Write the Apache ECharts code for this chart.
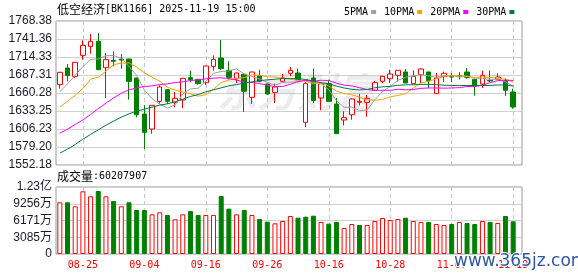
<!DOCTYPE html>
<html><head><meta charset="utf-8">
<script src="https://cdn.jsdelivr.net/npm/echarts@6/dist/echarts.min.js"></script>
<style>html,body{margin:0;padding:0;background:#fff}#c{width:578px;height:276px}</style>
</head><body><div id="c"></div>
<script>
const dates = ['08-20','08-21','08-22','08-25','08-26','08-27','08-28','08-29','09-01','09-02','09-03','09-04','09-05','09-08','09-09','09-10','09-11','09-12','09-15','09-16','09-17','09-18','09-19','09-22','09-23','09-24','09-25','09-26','09-29','09-30','10-09','10-10','10-13','10-14','10-15','10-16','10-17','10-20','10-21','10-22','10-23','10-24','10-27','10-28','10-29','10-30','10-31','11-03','11-04','11-05','11-06','11-07','11-10','11-11','11-12','11-13','11-14','11-17','11-18','11-19'];
const opens = [1672.8,1697.8,1685.3,1716.8,1730.3,1737.9,1698.3,1709.3,1711.3,1711.3,1682.8,1628.7,1606.2,1647.8,1665.3,1646.3,1649.8,1683.3,1680.8,1675.8,1700.3,1712.8,1694.3,1682.3,1688.3,1653.8,1686.3,1673.8,1661.3,1677.8,1689.8,1690.3,1616.2,1682.8,1652.8,1674.3,1643.8,1619.7,1627.7,1646.3,1646.3,1664.3,1677.8,1681.8,1686.8,1691.8,1674.3,1687.8,1691.8,1659.3,1684.8,1685.3,1686.5,1691.8,1680.8,1673.8,1679.3,1680.8,1679.3,1661.8];
const closes = [1691.3,1686.3,1706.3,1731.8,1737.9,1695.3,1710.3,1707.8,1709.8,1677.8,1627.7,1601.2,1641.8,1669.3,1647.8,1652.3,1682.3,1680.3,1674.3,1700.8,1710.8,1696.8,1683.8,1690.3,1662.8,1691.8,1677.8,1658.8,1669.3,1682.8,1694.3,1680.3,1674.3,1648.8,1674.3,1647.8,1599.2,1623.2,1651.3,1647.8,1652.3,1675.8,1685.3,1688.8,1694.3,1675.3,1685.3,1696.3,1678.8,1682.8,1689.8,1684.3,1685.5,1683.8,1670.8,1686.8,1678.3,1684.3,1664.3,1639.3];
const lows = [1666.8,1677.8,1682.8,1710.3,1719.3,1695.0,1652.8,1700.3,1696.8,1650.3,1623.7,1576.2,1599.2,1644.3,1643.8,1638.8,1637.3,1676.3,1672.8,1672.3,1693.8,1695.3,1680.3,1675.3,1631.8,1643.8,1676.3,1657.8,1645.3,1677.3,1685.3,1679.8,1609.2,1645.3,1634.3,1647.3,1598.8,1611.7,1620.2,1641.8,1624.7,1663.3,1675.3,1675.3,1677.8,1675.0,1674.0,1675.3,1667.8,1659.0,1676.8,1676.8,1680.5,1681.8,1656.3,1667.8,1676.8,1680.3,1655.8,1636.8];
const highs = [1692.0,1703.8,1707.0,1739.4,1748.9,1750.4,1720.3,1722.8,1718.8,1711.8,1683.3,1641.8,1642.3,1671.8,1665.8,1661.8,1683.0,1693.8,1681.5,1701.3,1716.8,1739.9,1707.8,1691.0,1689.0,1692.3,1695.3,1674.3,1674.3,1688.8,1699.3,1696.8,1676.3,1696.8,1675.0,1680.3,1652.8,1632.8,1652.0,1658.8,1657.3,1678.3,1686.0,1695.3,1695.0,1696.3,1694.3,1697.0,1692.3,1690.3,1692.3,1690.3,1691.8,1697.8,1681.3,1693.8,1694.3,1689.8,1681.8,1666.8];
const volumes = [95240000,95240000,87850000,115500000,106300000,116050000,106300000,97630000,87850000,95240000,81050000,81050000,73100000,76800000,71840000,63900000,73100000,79210000,71840000,71840000,71840000,106840000,83500000,73100000,81050000,71840000,64470000,59530000,56500000,60790000,70000000,66900000,68750000,70600000,58950000,55900000,58950000,47900000,55260000,53420000,53420000,60790000,66320000,62630000,64470000,66900000,60790000,58950000,58950000,55260000,53420000,55260000,58950000,57100000,55260000,60790000,58950000,57100000,70000000,60207907];
const ma5 = [1662,1674,1687,1700,1710.7,1711.5,1716.3,1716.6,1712.2,1700.2,1686.7,1664.9,1651.7,1643.6,1637.6,1642.5,1658.7,1666.4,1667.4,1678.0,1689.7,1692.6,1693.3,1696.5,1688.9,1685.1,1681.3,1676.3,1672.1,1676.1,1676.6,1677.1,1680.2,1676.1,1674.4,1665.1,1648.9,1638.7,1639.2,1633.9,1634.8,1650.1,1662.5,1670.0,1679.3,1683.9,1685.8,1688.0,1686.0,1683.7,1686.6,1686.4,1684.2,1685.2,1682.8,1682.2,1681.0,1680.8,1676.9,1670.6];
const ma10 = [1639,1648,1657,1667,1681,1684,1693,1703,1705,1705.5,1699.1,1690.6,1684.1,1677.9,1668.9,1664.6,1661.8,1659.0,1655.5,1657.8,1666.1,1675.7,1679.9,1682.0,1683.5,1687.4,1687.0,1684.8,1684.3,1682.5,1680.9,1679.2,1678.3,1674.1,1675.3,1670.9,1663.0,1659.4,1657.6,1654.1,1649.9,1649.5,1650.6,1654.6,1656.6,1659.3,1667.9,1675.3,1678.0,1681.5,1685.3,1686.1,1686.1,1685.6,1683.3,1684.4,1683.7,1682.5,1681.1,1676.7];
const ma20 = [1600,1606,1613,1620,1628,1637,1645,1653,1660,1665,1668,1670,1671,1673,1674,1676,1677,1679,1680,1681.6,1682.6,1683.1,1682.0,1679.9,1676.2,1676.0,1674.4,1671.9,1669.9,1670.1,1673.5,1677.4,1679.1,1678.0,1679.4,1679.1,1675.0,1672.1,1671.0,1668.3,1665.4,1664.3,1664.4,1664.3,1665.9,1665.1,1665.5,1667.3,1667.8,1667.8,1667.6,1667.8,1668.4,1670.1,1669.9,1671.9,1675.8,1678.9,1679.5,1679.1];
const ma30 = [1570,1576,1583,1591,1598,1605,1612,1618,1624,1629,1633,1636,1639,1642,1644,1647,1651,1655,1658,1662,1665,1668,1671,1673,1675,1677,1679,1680,1681,1681.9,1682.0,1681.8,1680.7,1678.0,1675.9,1674.3,1670.6,1667.8,1665.8,1664.8,1665.6,1668.1,1669.6,1670.2,1671.8,1672.5,1672.6,1673.2,1673.3,1672.7,1672.0,1671.6,1671.7,1671.4,1671.7,1671.5,1671.6,1672.4,1672.2,1670.8];
const priceTicks = ['1552.18','1579.20','1606.23','1633.25','1660.28','1687.31','1714.33','1741.36','1768.38'];
const volTicks = ['0','3085万','6171万','9256万','1.23亿'];
const maNames = ['5PMA','10PMA','20PMA','30PMA'];

const PRICE_MIN = 1552.18, PRICE_MAX = 1768.38;
const VOL_MAX = 123420000;
const RED = '#ff0000', GREEN = '#008000';
const maColors = ['#a0a0a0','#f5a300','#ff00ff','#007a3d'];
const mono = '"DejaVu Sans Mono", monospace';
const cjk = '"Noto Sans CJK SC", sans-serif';
const labelIdx = (i) => i % 8 === 3;

const kData = opens.map((o, i) => [o, closes[i], lows[i], highs[i]]);
const volData = volumes.map((v, i) => {
  const prev = i === 0 ? opens[0] : closes[i - 1];
  const up = closes[i] >= prev;
  return { value: v, itemStyle: up ? { color: '#fff', borderColor: RED, borderWidth: 1 } : { color: GREEN, borderColor: GREEN, borderWidth: 1 } };
});
const maData = [ma5, ma10, ma20, ma30];

const vSplit = { show: true, interval: labelIdx, alignWithLabel: true, lineStyle: { color: '#c8c8c8', type: [4, 3], width: 1 } };
const hSplit = { show: true, lineStyle: { color: '#d0d0d0', width: 1 } };

const chart = echarts.init(document.getElementById('c'), null, { renderer: 'canvas' });
chart.setOption({
  animation: false,
  backgroundColor: '#fff',
  legend: {
    data: maNames, left: 339, top: 2, icon: 'rect', itemWidth: 5, itemHeight: 4, itemGap: 8,
    align: 'right', selectedMode: false,
    textStyle: { fontFamily: mono, fontSize: 10, color: '#000', padding: [0, -2, 0, 0] }
  },
  grid: [
    { left: 56, top: 21, width: 466, height: 144, show: true, borderColor: '#999', borderWidth: 1, backgroundColor: 'transparent' },
    { left: 56, top: 21, width: 461, height: 144 },
    { left: 56, top: 187, width: 466, height: 67, show: true, borderColor: '#999', borderWidth: 1, backgroundColor: 'transparent' },
    { left: 56, top: 187, width: 461, height: 67 }
  ],
  xAxis: [
    { gridIndex: 0, type: 'value', min: 0, max: 1, show: false },
    { gridIndex: 1, type: 'category', data: dates, boundaryGap: true, axisLine: { show: false }, axisTick: { show: false }, axisLabel: { show: false }, splitLine: vSplit },
    { gridIndex: 2, type: 'value', min: 0, max: 1, show: false },
    { gridIndex: 3, type: 'category', data: dates, boundaryGap: true, axisLine: { show: false }, axisTick: { show: false },
      axisLabel: { show: true, interval: labelIdx, color: RED, fontFamily: mono, fontSize: 10, margin: 6 }, splitLine: vSplit }
  ],
  yAxis: [
    { gridIndex: 0, type: 'value', min: 0, max: 8, interval: 1, axisLine: { show: false }, axisTick: { show: false },
      axisLabel: { formatter: (v) => priceTicks[v], color: '#1a1a2a', fontFamily: '"Liberation Sans", Arial, sans-serif', fontSize: 12, margin: 4 }, splitLine: hSplit },
    { gridIndex: 1, type: 'value', min: PRICE_MIN, max: PRICE_MAX, show: false, scale: true },
    { gridIndex: 2, type: 'value', min: 0, max: 4, interval: 1, axisLine: { show: false }, axisTick: { show: false },
      axisLabel: { formatter: (v) => volTicks[v], color: '#1a1a2a', fontFamily: '"Liberation Sans", "Noto Sans CJK SC", sans-serif', fontSize: 12, margin: 4 }, splitLine: hSplit },
    { gridIndex: 3, type: 'value', min: 0, max: VOL_MAX, show: false }
  ],
  graphic: [
    { type: 'text', x: 217, y: 92, z: 1, silent: true,
      style: { text: '东方财富', fill: 'rgba(170,170,185,0.22)', font: 'italic bold 40px "Noto Sans CJK SC"', verticalAlign: 'middle' } },
    { type: 'text', x: 57, y: 9, z: 50, silent: true,
      style: { text: '{c|低空经济}{a|[BK1166] 2025-11-19 15:00}', verticalAlign: 'middle',
        rich: { c: { fontFamily: cjk, fontSize: 12, fill: '#000' }, a: { fontFamily: mono, fontSize: 10, fill: '#000' } } } },
    { type: 'text', x: 57, y: 176.5, z: 50, silent: true,
      style: { text: '{c|成交量}{a|:60207907}', verticalAlign: 'middle',
        rich: { c: { fontFamily: cjk, fontSize: 12, fill: '#000' }, a: { fontFamily: mono, fontSize: 10, fill: '#000' } } } },
    { type: 'text', x: 454, y: 262, z: 100, silent: true,
      style: { text: 'www.365jz.com', fill: '#2d58a8', font: '17px "DejaVu Sans"', stroke: '#fff', lineWidth: 2, verticalAlign: 'middle' } }
  ],
  series: [
    { type: 'candlestick', name: 'K', xAxisIndex: 1, yAxisIndex: 1, barWidth: 5, data: kData, z: 3,
      itemStyle: { color: '#fff', color0: GREEN, borderColor: RED, borderColor0: GREEN, borderWidth: 1 } },
    ...maNames.map((n, k) => ({
      type: 'line', name: n, xAxisIndex: 1, yAxisIndex: 1, data: maData[k], symbol: 'none', z: 4 + k,
      lineStyle: { width: 1, color: maColors[k] }, itemStyle: { color: maColors[k] }
    })),
    { type: 'bar', name: 'VOL', xAxisIndex: 3, yAxisIndex: 3, barWidth: 5, data: volData, z: 3 }
  ]
});
</script></body></html>
